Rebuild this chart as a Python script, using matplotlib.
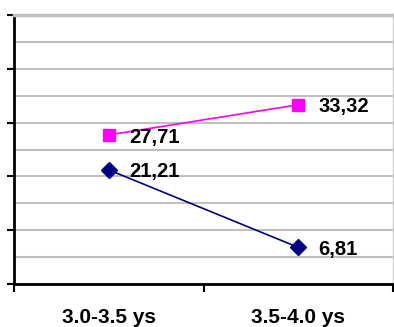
import matplotlib.pyplot as plt
from matplotlib.ticker import MultipleLocator

# age groups and mean scores for the two series
groups = ['3.0-3.5 ys', '3.5-4.0 ys']
upper_vals = [27.71, 33.32]
lower_vals = [21.21, 6.81]

fig = plt.figure(figsize=(3.94, 3.27), dpi=100)
ax = fig.add_axes([14/394, 43/327, 379/394, 269/327])

x = list(range(len(groups)))
ax.plot(x, upper_vals, color='#FF00FF', marker='s', markersize=8.5, lw=1.2, clip_on=False, zorder=3)
ax.plot(x, lower_vals, color='#000080', marker='D', markersize=8, lw=1.2, clip_on=False, zorder=3)

for xs, ys in [(x, upper_vals), (x, lower_vals)]:
    for xi, yi in zip(xs, ys):
        ax.annotate(f'{yi:.2f}'.replace('.', ','), (xi, yi), xytext=(14.5, -1.5),
                    textcoords='offset points', ha='left', va='center',
                    fontsize=14.5, fontweight='bold', family='Liberation Sans')

ax.set_xlim(-0.5, 1.5)
ax.set_ylim(0, 50)

# horizontal grid every 5 units, axis ticks every 10
ax.yaxis.set_major_locator(MultipleLocator(10))
ax.yaxis.set_minor_locator(MultipleLocator(5))
ax.grid(True, which='both', axis='y', color='#c0c0c0', lw=1.5)
ax.set_axisbelow(True)
ax.tick_params(axis='y', which='major', direction='out', length=5, width=1.5,
               labelleft=False, right=True)
ax.tick_params(axis='y', which='minor', length=0)

ax.set_xticks([-0.5, 0.5, 1.5])
ax.set_xticklabels([])
ax.set_xticks(x, minor=True)
ax.set_xticklabels(groups, minor=True, fontsize=15, fontweight='bold', family='Liberation Sans')
ax.tick_params(axis='x', which='major', direction='out', length=6, width=1.5)
ax.tick_params(axis='x', which='minor', length=0, pad=17)

ax.spines['left'].set_linewidth(2)
ax.spines['bottom'].set_linewidth(2)
ax.spines['top'].set_color('#c0c0c0')
ax.spines['top'].set_linewidth(2.5)
ax.spines['right'].set_color('#d0d0d0')
ax.spines['right'].set_linewidth(1)

fig.savefig('out.png', dpi=100)
